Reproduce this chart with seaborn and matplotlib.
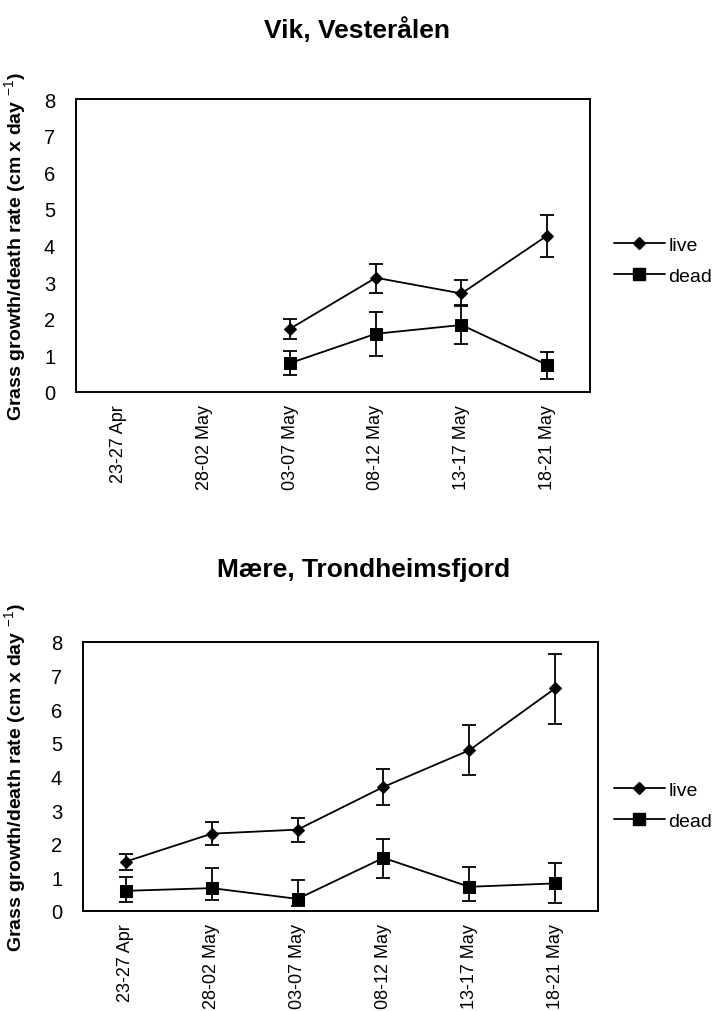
import numpy as np
import pandas as pd
import matplotlib
matplotlib.use("Agg")
import matplotlib.pyplot as plt
from matplotlib.lines import Line2D
import seaborn as sns

# ---------------- data ----------------
periods = ["23-27 Apr", "28-02 May", "03-07 May", "08-12 May", "13-17 May", "18-21 May"]

vik_live = [np.nan, np.nan, 1.73, 3.12, 2.69, 4.27]
vik_live_err_lo = [np.nan, np.nan, 0.28, 0.42, 0.34, 0.58]
vik_live_err_hi = [np.nan, np.nan, 0.25, 0.37, 0.36, 0.57]
vik_dead = [np.nan, np.nan, 0.79, 1.59, 1.83, 0.74]
vik_dead_err_lo = [np.nan, np.nan, 0.33, 0.62, 0.53, 0.39]
vik_dead_err_hi = [np.nan, np.nan, 0.34, 0.59, 0.55, 0.36]

maere_live = [1.47, 2.30, 2.42, 3.69, 4.78, 6.62]
maere_live_err_lo = [0.26, 0.34, 0.38, 0.53, 0.73, 1.05]
maere_live_err_hi = [0.23, 0.34, 0.36, 0.53, 0.75, 1.03]
maere_dead = [0.60, 0.68, 0.36, 1.58, 0.72, 0.82]
maere_dead_err_lo = [0.34, 0.35, 0.22, 0.60, 0.42, 0.58]
maere_dead_err_hi = [0.40, 0.59, 0.56, 0.56, 0.58, 0.60]

series_names = ["live", "dead"]
titles = ["Vik, Vesterålen", "Mære, Trondheimsfjord"]
ylabel = "Grass growth/death rate (cm x day $^{-1}$)"
yticks = [0, 1, 2, 3, 4, 5, 6, 7, 8]

# ---------------- style ----------------
sns.set_style("white")
plt.rcParams["font.family"] = ["Liberation Sans", "DejaVu Sans"]
plt.rcParams["mathtext.fontset"] = "custom"
plt.rcParams["mathtext.rm"] = "Liberation Sans"
plt.rcParams["mathtext.it"] = "Liberation Sans"
plt.rcParams["mathtext.bf"] = "Liberation Sans:bold"
for key in ["text.color", "axes.labelcolor", "xtick.color", "ytick.color",
            "axes.edgecolor"]:
    plt.rcParams[key] = "black"

W, H = 721, 1012
fig = plt.figure(figsize=(W / 100, H / 100), dpi=100)

def fx(px):
    return px / W

def fy(py):
    return 1 - py / H

panels = [
    dict(box=(76, 100, 590, 393), title_xy=(357, 30), leg_y=(245, 278),
         live=vik_live, live_lo=vik_live_err_lo, live_hi=vik_live_err_hi,
         dead=vik_dead, dead_lo=vik_dead_err_lo, dead_hi=vik_dead_err_hi),
    dict(box=(83, 643, 598, 912), title_xy=(364, 570), leg_y=(790, 823),
         live=maere_live, live_lo=maere_live_err_lo, live_hi=maere_live_err_hi,
         dead=maere_dead, dead_lo=maere_dead_err_lo, dead_hi=maere_dead_err_hi),
]

markers = {"live": "D", "dead": "s"}
msizes = {"live": 6.5, "dead": 8.5}

for p, title in zip(panels, titles):
    l, t, r, b = p["box"]
    ax = fig.add_axes([fx(l), fy(b), (r - l) / W, (b - t) / H])

    xs = list(range(len(periods)))
    df = pd.DataFrame({
        "x": xs * 2,
        "rate": list(p["live"]) + list(p["dead"]),
        "series": ["live"] * len(xs) + ["dead"] * len(xs),
    })
    for name in series_names:
        sub = df[df["series"] == name]
        sns.lineplot(data=sub, x="x", y="rate", ax=ax, color="black",
                     marker=markers[name], markersize=msizes[name],
                     markeredgecolor="black", markerfacecolor="black",
                     linewidth=1.3, legend=False, sort=False)
    for name, vals, lo, hi in [("live", p["live"], p["live_lo"], p["live_hi"]),
                               ("dead", p["dead"], p["dead_lo"], p["dead_hi"])]:
        ax.errorbar(xs, vals, yerr=[lo, hi], fmt="none", ecolor="black",
                    elinewidth=1.3, capsize=5, capthick=1.3)

    ax.set_xlim(-0.5, len(periods) - 0.5)
    ax.set_ylim(0, 8)
    ax.set_yticks(yticks)
    ax.set_yticklabels([str(v) for v in yticks], fontsize=14.5)
    ax.set_xticks(xs)
    ax.set_xticklabels(periods, rotation=90, fontsize=13)
    ax.tick_params(axis="both", length=0, colors="black")
    ax.tick_params(axis="y", pad=15)
    ax.tick_params(axis="x", pad=9)
    ax.set_xlabel("")
    ax.set_ylabel(ylabel, fontsize=14, fontweight="bold", color="black")
    ax.yaxis.set_label_coords((28 - l) / (r - l), 0.5)
    for s in ax.spines.values():
        s.set_visible(True)
        s.set_color("black")
        s.set_linewidth(1.4)

    fig.text(fx(p["title_xy"][0]), fy(p["title_xy"][1]), title,
             ha="center", va="center", fontsize=19, fontweight="bold",
             color="black")

    handles = [Line2D([], [], color="black", linewidth=1.3, marker=markers[n],
                      markersize=msizes[n], markeredgecolor="black",
                      markerfacecolor="black") for n in series_names]
    ly = (p["leg_y"][0] + p["leg_y"][1]) / 2
    fig.legend(handles, series_names, loc="center left",
               bbox_to_anchor=(fx(614), fy(ly)), frameon=False,
               fontsize=14, handlelength=2.6, handletextpad=0.2,
               labelspacing=0.7, borderpad=0, borderaxespad=0,
               labelcolor="black")

fig.savefig("out.png", dpi=100)
